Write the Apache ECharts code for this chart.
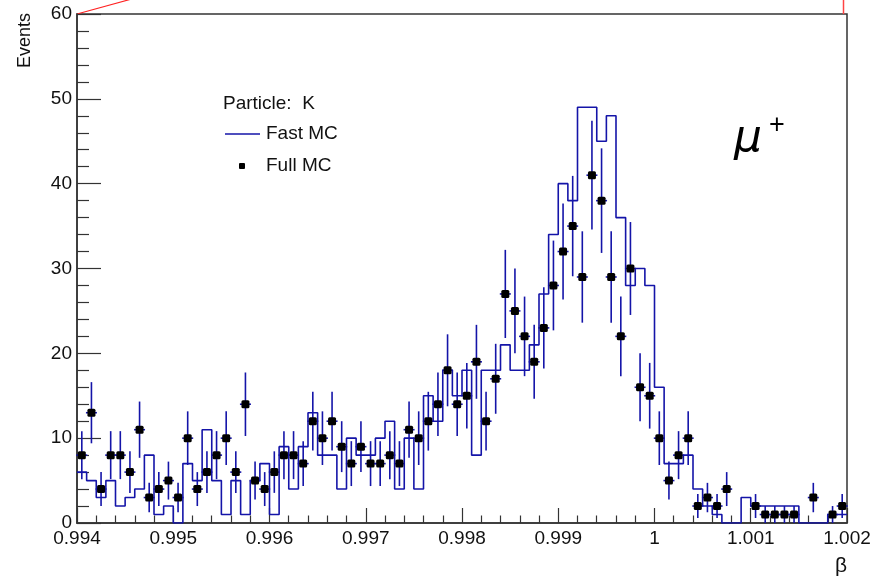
<!DOCTYPE html>
<html>
<head>
<meta charset="utf-8">
<script src="https://cdn.jsdelivr.net/npm/echarts@6/dist/echarts.min.js"></script>
<style>
  html, body { margin: 0; padding: 0; background: #fff; }
  #chart { width: 874px; height: 578px; }
</style>
</head>
<body>
<div id="chart"></div>
<script>
// Histogram binning of beta: 80 bins from 0.994 to 1.002
const BIN_LOW = 0.994;
const BIN_WIDTH = 0.0001;
const X_MIN = 0.994, X_MAX = 1.002, X_STEP = 0.001;
const Y_MIN = 0, Y_MAX = 60, Y_STEP = 10;

// Fast MC bin contents (step histogram)
const fastMC = [
  6, 5, 3, 5, 2, 3, 4, 8, 1, 2,
  0, 7, 5, 11, 5, 1, 5, 1, 5, 7,
  1, 9, 4, 9, 13, 8, 8, 4, 10, 8,
  8, 10, 12, 4, 10, 4, 15, 12, 18, 15,
  18, 8, 18, 18, 21, 18, 18, 21, 27, 34,
  40, 38, 49, 49, 45, 48, 36, 28, 30, 28,
  16, 7, 7, 8, 4, 2, 1, 0, 0, 3,
  2, 2, 2, 2, 2, 0, 0, 0, 1, 1
];

// Full MC bin contents (points with sqrt(N) errors)
const fullMC = [
  8, 13, 4, 8, 8, 6, 11, 3, 4, 5,
  3, 10, 4, 6, 8, 10, 6, 14, 5, 4,
  6, 8, 8, 7, 12, 10, 12, 9, 7, 9,
  7, 7, 8, 7, 11, 10, 12, 14, 18, 14,
  15, 19, 12, 17, 27, 25, 22, 19, 23, 28,
  32, 35, 29, 41, 38, 29, 22, 30, 16, 15,
  10, 5, 8, 10, 2, 3, 2, 4, 0, 0,
  2, 1, 1, 1, 1, 0, 3, 0, 1, 2
];

const legendTitle = 'Particle:  K';
const seriesNames = ['Fast MC', 'Full MC'];

const BLUE = '#1414a8';
const FONT = '"Liberation Sans", Arial, Helvetica, sans-serif';

// step line points at bin lower edges, plus closing upper edge
const fastSteps = fastMC.map((v, i) => [BIN_LOW + i * BIN_WIDTH, v]);
fastSteps.push([BIN_LOW + fastMC.length * BIN_WIDTH, fastMC[fastMC.length - 1]]);

const fullPoints = fullMC.map((v, i) => [BIN_LOW + (i + 0.5) * BIN_WIDTH, v]);

function renderPoint(params, api) {
  const x = api.value(0);
  const y = api.value(1);
  if (!(y > 0)) return null;
  const err = Math.sqrt(y);
  const c = api.coord([x, y]);
  const lo = api.coord([x, Math.max(0, y - err)]);
  const hi = api.coord([x, y + err]);
  const lineStyle = { stroke: BLUE, lineWidth: 1.6 };
  return {
    type: 'group',
    children: [
      { type: 'line', shape: { x1: c[0], y1: lo[1], x2: c[0], y2: hi[1] }, style: lineStyle },
      { type: 'line', shape: { x1: c[0] - 5.5, y1: c[1], x2: c[0] + 5.5, y2: c[1] }, style: lineStyle },
      { type: 'rect', shape: { x: c[0] - 4, y: c[1] - 4, width: 8, height: 8, r: 1.5 },
        style: { fill: '#000' } }
    ]
  };
}

function fmtX(v) {
  return String(parseFloat(v.toFixed(3)));
}

const chart = echarts.init(document.getElementById('chart'), null, { renderer: 'canvas' });

const option = {
  animation: false,
  backgroundColor: '#fff',
  grid: {
    left: 77, right: 27, top: 14, bottom: 55,
    show: true, borderColor: '#333', borderWidth: 1.5, backgroundColor: 'transparent'
  },
  xAxis: {
    type: 'value',
    min: X_MIN, max: X_MAX, interval: X_STEP,
    axisLine: { show: true, onZero: false, lineStyle: { color: '#333', width: 1.5 } },
    axisTick: { show: true, inside: true, length: 15, lineStyle: { color: '#333', width: 1.2 } },
    minorTick: { show: true, splitNumber: 5, length: 7.5, lineStyle: { color: '#333', width: 1.2 } },
    splitLine: { show: false },
    axisLabel: {
      show: true, margin: 6, color: '#111', fontSize: 19, fontFamily: FONT,
      formatter: fmtX, showMinLabel: true, showMaxLabel: true
    }
  },
  yAxis: {
    type: 'value',
    min: Y_MIN, max: Y_MAX, interval: Y_STEP,
    axisLine: { show: true, lineStyle: { color: '#333', width: 1.5 } },
    axisTick: { show: true, inside: true, length: 24, lineStyle: { color: '#333', width: 1.2 } },
    minorTick: { show: true, splitNumber: 5, length: 12, lineStyle: { color: '#333', width: 1.2 } },
    splitLine: { show: false },
    axisLabel: { show: true, margin: 5, color: '#111', fontSize: 19, fontFamily: FONT }
  },
  series: [
    {
      name: seriesNames[0],
      type: 'line',
      step: 'end',
      data: fastSteps,
      showSymbol: false,
      symbol: 'none',
      lineStyle: { color: BLUE, width: 1.6 },
      clip: true,
      z: 2
    },
    {
      name: seriesNames[1],
      type: 'custom',
      data: fullPoints,
      encode: { x: 0, y: 1 },
      renderItem: renderPoint,
      clip: false,
      z: 3
    }
  ],
  graphic: [
    // axis titles
    { type: 'text', x: 25, y: 13, rotation: Math.PI / 2,
      style: { text: 'Events', fill: '#111', font: '18px ' + FONT, textAlign: 'right', textVerticalAlign: 'middle' } },
    { type: 'text', x: 847, y: 566,
      style: { text: 'β', fill: '#111', font: '21px ' + FONT, textAlign: 'right', textVerticalAlign: 'middle' } },
    // legend block
    { type: 'text', x: 223, y: 104,
      style: { text: legendTitle, fill: '#111', font: '19px ' + FONT, textAlign: 'left', textVerticalAlign: 'middle' } },
    { type: 'line', shape: { x1: 225, y1: 134, x2: 260, y2: 134 }, style: { stroke: BLUE, lineWidth: 1.6 } },
    { type: 'text', x: 266, y: 134,
      style: { text: seriesNames[0], fill: '#111', font: '19px ' + FONT, textAlign: 'left', textVerticalAlign: 'middle' } },
    { type: 'rect', shape: { x: 239, y: 163, width: 6, height: 6, r: 1 }, style: { fill: '#000' } },
    { type: 'text', x: 266, y: 166,
      style: { text: seriesNames[1], fill: '#111', font: '19px ' + FONT, textAlign: 'left', textVerticalAlign: 'middle' } },
    // particle label
    { type: 'text', x: 734, y: 140,
      style: { text: 'μ', fill: '#000', font: 'italic 44px "DejaVu Sans", sans-serif', textAlign: 'left', textVerticalAlign: 'middle' } },
    { type: 'text', x: 769, y: 126,
      style: { text: '+', fill: '#000', font: '27px ' + FONT, textAlign: 'left', textVerticalAlign: 'middle' } },
    // red pad guide lines at the frame corners
    { type: 'line', shape: { x1: 77, y1: 14, x2: 130, y2: -0.5 }, style: { stroke: '#f22', lineWidth: 1.2 } },
    { type: 'line', shape: { x1: 843.5, y1: 0, x2: 843.5, y2: 14 }, style: { stroke: '#f44', lineWidth: 1.5 } }
  ]
};

chart.setOption(option);
</script>
</body>
</html>
